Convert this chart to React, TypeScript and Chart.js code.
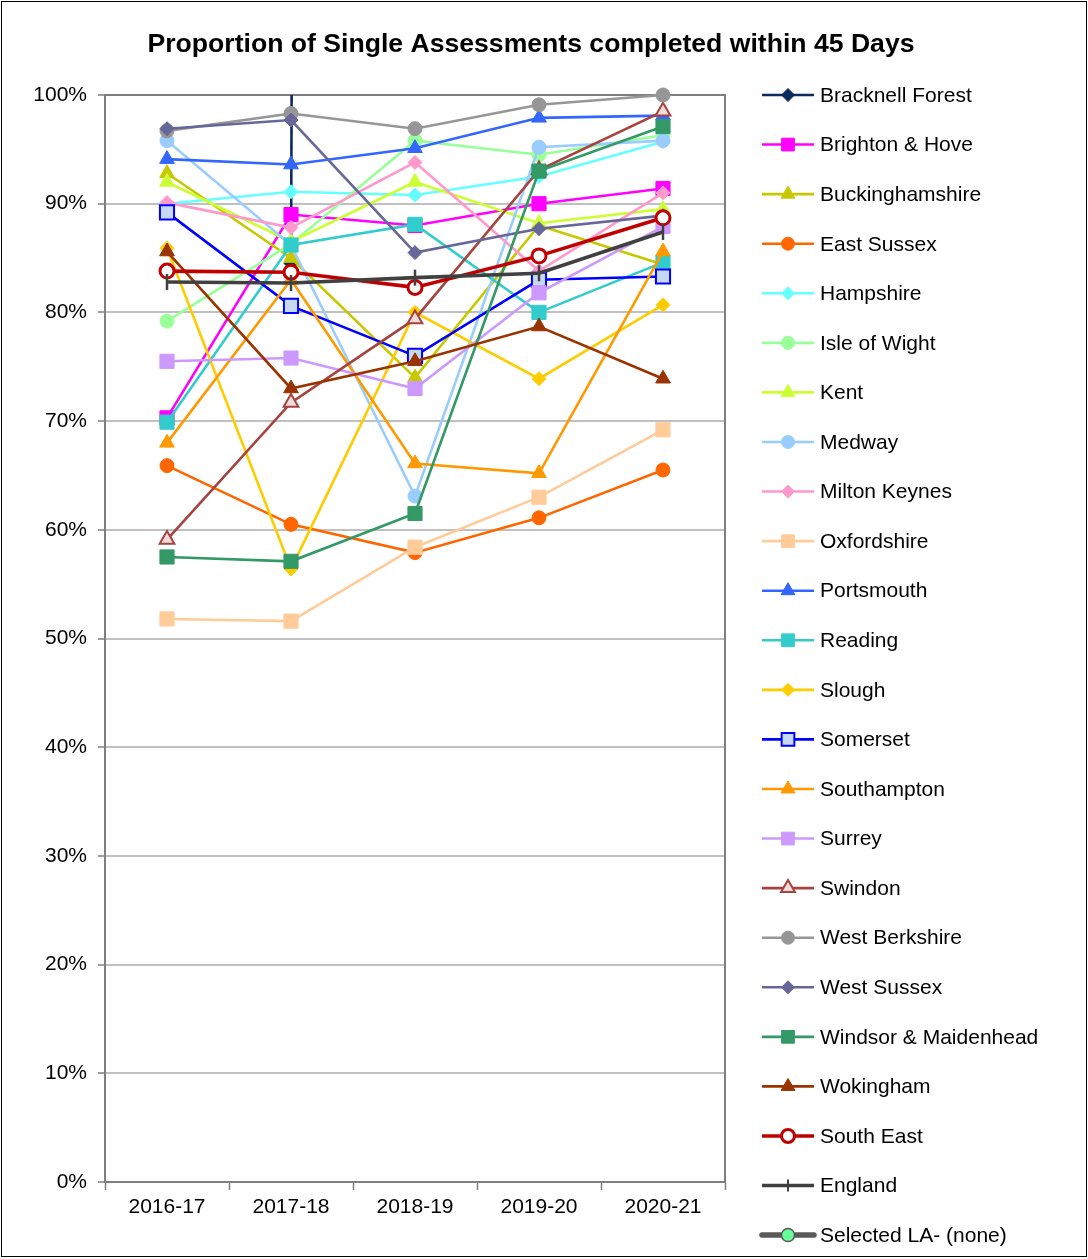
import React, { useEffect, useRef } from "react";
import { Chart, registerables } from "chart.js";

Chart.register(...registerables);

// ---------------- DATA ----------------
const categories = ["2016-17", "2017-18", "2018-19", "2019-20", "2020-21"];
const yTicks = [0, 10, 20, 30, 40, 50, 60, 70, 80, 90, 100];
const chartTitle = "Proportion of Single Assessments completed within 45 Days";

const seriesNames = [
  "Bracknell Forest",
  "Brighton & Hove",
  "Buckinghamshire",
  "East Sussex",
  "Hampshire",
  "Isle of Wight",
  "Kent",
  "Medway",
  "Milton Keynes",
  "Oxfordshire",
  "Portsmouth",
  "Reading",
  "Slough",
  "Somerset",
  "Southampton",
  "Surrey",
  "Swindon",
  "West Berkshire",
  "West Sussex",
  "Windsor & Maidenhead",
  "Wokingham",
  "South East",
  "England",
  "Selected LA- (none)",
];

const bracknellForest = [null, 84.5, 10000, null, null];
const brightonHove = [70.3, 89.0, 88.0, 90.0, 91.4];
const buckinghamshire = [92.8, 85.0, 74.0, 88.0, 84.4];
const eastSussex = [65.9, 60.5, 57.9, 61.1, 65.5];
const hampshire = [90.0, 91.1, 90.8, 92.5, 95.7];
const isleOfWight = [79.2, 86.3, 95.8, 94.5, 96.3];
const kent = [92.0, 86.5, 92.0, 88.2, 89.5];
const medway = [95.8, 86.2, 63.1, 95.2, 95.8];
const miltonKeynes = [90.1, 87.8, 93.8, 83.8, 91.0];
const oxfordshire = [51.8, 51.6, 58.4, 63.0, 69.2];
const portsmouth = [94.1, 93.6, 95.1, 97.9, 98.1];
const reading = [69.9, 86.2, 88.1, 80.0, 84.6];
const slough = [85.9, 56.4, 80.0, 73.9, 80.7];
const somerset = [89.2, 80.6, 76.0, 83.0, 83.3];
const southampton = [68.0, 83.0, 66.1, 65.2, 85.6];
const surrey = [75.5, 75.8, 73.0, 81.8, 87.9];
const swindon = [59.1, 71.7, 79.4, 93.1, 98.5];
const westBerkshire = [96.7, 98.3, 96.9, 99.1, 100.0];
const westSussex = [96.9, 97.7, 85.5, 87.7, 88.9];
const windsorMaidenhead = [57.5, 57.1, 61.5, 93.0, 97.1];
const wokingham = [85.6, 73.0, 75.5, 78.7, 73.9];
const southEast = [83.8, 83.7, 82.3, 85.2, 88.7];
const england = [82.8, 82.7, 83.2, 83.6, 87.4];
const selectedLA = [null, null, null, null, null];

const seriesData = [
  bracknellForest, brightonHove, buckinghamshire, eastSussex, hampshire,
  isleOfWight, kent, medway, miltonKeynes, oxfordshire, portsmouth, reading,
  slough, somerset, southampton, surrey, swindon, westBerkshire, westSussex,
  windsorMaidenhead, wokingham, southEast, england, selectedLA,
];

// ---------------- STYLES ----------------
type Style = {
  line: string;
  fill: string;
  border: string;
  shape: string;
  r: number;
  lw: number;
  bw: number;
};
const st = (line: string, shape: string, r: number, extra: Partial<Style> = {}): Style => ({
  line,
  fill: line,
  border: line,
  shape,
  r,
  lw: 2.6,
  bw: 1,
  ...extra,
});

const styles: Style[] = [
  st("#0B2A5E", "rectRot", 7),
  st("#FF00FF", "rect", 10),
  st("#C8C800", "triangle", 8.5),
  st("#FF6600", "circle", 7),
  st("#66FFFF", "rectRot", 7),
  st("#99FF99", "circle", 7),
  st("#CCFF33", "triangle", 8.5),
  st("#99CCFF", "circle", 7),
  st("#FF99CC", "rectRot", 7),
  st("#FFCC99", "rect", 10),
  st("#3366FF", "triangle", 8.5),
  st("#33CCCC", "rect", 10),
  st("#FFCC00", "rectRot", 7),
  st("#0000FF", "rect", 10, { fill: "#C6D9F1", border: "#0000FF", bw: 2 }),
  st("#FF9900", "triangle", 8.5),
  st("#CC99FF", "rect", 10),
  st("#A5433E", "triangle", 8.5, { fill: "#F2DCDB", border: "#A5433E", bw: 2 }),
  st("#969696", "circle", 7),
  st("#666699", "rectRot", 7),
  st("#339966", "rect", 10),
  st("#993300", "triangle", 8.5),
  st("#C00000", "circle", 7, { fill: "#FFFFFF", border: "#C00000", bw: 3, lw: 3.6 }),
  st("#404040", "crossRot0", 8, { lw: 3.6, bw: 2.5 }),
  st("#595959", "circle", 6, { fill: "#66FF99", border: "#595959", bw: 1.5, lw: 5.5 }),
];

const FONT = "'Liberation Sans', Arial, sans-serif";

function drawMarker(ctx: CanvasRenderingContext2D, s: Style, x: number, y: number) {
  ctx.save();
  ctx.fillStyle = s.fill;
  ctx.strokeStyle = s.border;
  ctx.lineWidth = s.bw;
  ctx.beginPath();
  const r = s.r;
  if (s.shape === "circle") {
    ctx.arc(x, y, r, 0, Math.PI * 2);
    ctx.fill();
    ctx.stroke();
  } else if (s.shape === "rect") {
    const h = r * Math.SQRT1_2;
    ctx.rect(x - h, y - h, 2 * h, 2 * h);
    ctx.fill();
    ctx.stroke();
  } else if (s.shape === "rectRot") {
    ctx.moveTo(x, y - r);
    ctx.lineTo(x + r, y);
    ctx.lineTo(x, y + r);
    ctx.lineTo(x - r, y);
    ctx.closePath();
    ctx.fill();
    ctx.stroke();
  } else if (s.shape === "triangle") {
    for (let k = 0; k < 3; k++) {
      const a = (k * 2 * Math.PI) / 3;
      const px = x + Math.sin(a) * r;
      const py = y - Math.cos(a) * r;
      if (k === 0) ctx.moveTo(px, py);
      else ctx.lineTo(px, py);
    }
    ctx.closePath();
    ctx.fill();
    ctx.stroke();
  } else {
    ctx.moveTo(x, y - r);
    ctx.lineTo(x, y + r);
    ctx.stroke();
  }
  ctx.restore();
}

const decorPlugin = {
  id: "decor",
  beforeDatasetsDraw(chart: any) {
    const { ctx, chartArea } = chart;
    ctx.save();
    ctx.strokeStyle = "#7F7F7F";
    ctx.lineWidth = 2;
    ctx.beginPath();
    ctx.moveTo(chartArea.left, chartArea.top);
    ctx.lineTo(chartArea.right, chartArea.top);
    ctx.lineTo(chartArea.right, chartArea.bottom);
    ctx.stroke();
    ctx.restore();
  },
  afterDraw(chart: any) {
    const { ctx } = chart;
    ctx.save();
    // title
    ctx.fillStyle = "#000";
    ctx.font = `bold 26.6px ${FONT}`;
    ctx.textAlign = "center";
    ctx.textBaseline = "middle";
    ctx.fillText(chartTitle, 531, 45);
    // legend
    const x0 = 762;
    const x1 = 814;
    const xm = 788;
    const step = 49.57;
    ctx.font = `21px ${FONT}`;
    ctx.textAlign = "left";
    seriesNames.forEach((name, i) => {
      const s = styles[i];
      const y = 95 + i * step;
      ctx.strokeStyle = s.line;
      ctx.lineWidth = s.lw;
      ctx.lineCap = i === seriesNames.length - 1 ? "round" : "butt";
      ctx.beginPath();
      ctx.moveTo(x0, y);
      ctx.lineTo(x1, y);
      ctx.stroke();
      if (s.shape === "crossRot0") {
        ctx.strokeStyle = s.line;
        ctx.lineWidth = 2;
        ctx.beginPath();
        ctx.moveTo(xm, y - 6);
        ctx.lineTo(xm, y + 6);
        ctx.stroke();
      } else {
        drawMarker(ctx, { ...s, r: s.shape === "rect" ? 9 : s.shape === "circle" ? 6.5 : s.r - 0.5 }, xm, y);
      }
      ctx.fillStyle = "#000";
      ctx.fillText(name, 820, y + 1);
    });
    // frame
    ctx.strokeStyle = "#000";
    ctx.lineWidth = 1;
    ctx.strokeRect(1.5, 1.5, 1085, 1255);
    ctx.restore();
  },
};

export default function App() {
  const ref = useRef<HTMLCanvasElement | null>(null);

  useEffect(() => {
    if (!ref.current) return;
    const n = seriesNames.length;
    const datasets = seriesNames.map((name, i) => {
      const s = styles[i];
      return {
        label: name,
        data: seriesData[i],
        borderColor: s.line,
        backgroundColor: s.fill,
        borderWidth: s.lw,
        pointStyle: s.shape === "crossRot0" ? "line" : s.shape,
        pointRotation: s.shape === "crossRot0" ? 90 : 0,
        pointRadius: s.r,
        pointHoverRadius: s.r,
        pointBackgroundColor: s.fill,
        pointBorderColor: s.border,
        pointBorderWidth: s.shape === "crossRot0" ? 2.5 : s.bw,
        tension: 0,
        spanGaps: false,
        order: n - i,
        clip: i === 0 ? 0 : false,
      };
    });

    const chart = new Chart(ref.current, {
      type: "line",
      data: { labels: categories, datasets: datasets as any },
      options: {
        responsive: false,
        animation: false,
        devicePixelRatio: 1,
        layout: { padding: { top: 95, right: 363, left: 0, bottom: 0 } },
        plugins: {
          legend: { display: false },
          title: { display: false },
          tooltip: { enabled: false },
        },
        scales: {
          x: {
            offset: true,
            grid: {
              offset: true,
              drawOnChartArea: false,
              drawTicks: true,
              tickLength: 8,
              tickColor: "#7F7F7F",
              tickWidth: 1.5,
            },
            border: { color: "#7F7F7F", width: 2 },
            ticks: {
              color: "#000",
              font: { family: FONT, size: 21 },
              padding: 5,
              maxRotation: 0,
            },
            afterFit: (scale: any) => {
              scale.height = 77;
            },
          },
          y: {
            min: 0,
            max: 100,
            afterBuildTicks: (scale: any) => {
              scale.ticks = yTicks.map((v) => ({ value: v }));
            },
            grid: {
              color: (c: any) => (c.tick && c.tick.value === 100 ? "#7F7F7F" : "#C0C0C0"),
              lineWidth: 2,
              tickLength: 7,
              tickColor: "#7F7F7F",
              tickWidth: 1.5,
            },
            border: { color: "#7F7F7F", width: 2 },
            ticks: {
              color: "#000",
              font: { family: FONT, size: 21 },
              padding: 11,
              callback: (v: any) => `${v}%`,
            },
            afterFit: (scale: any) => {
              scale.width = 105;
            },
          },
        },
      },
      plugins: [decorPlugin],
    });
    return () => chart.destroy();
  }, []);

  return (
    <div style={{ position: "absolute", left: 0, top: 0, width: 1088, height: 1259, background: "#fff" }}>
      <canvas ref={ref} width={1088} height={1259} style={{ width: 1088, height: 1259, display: "block" }} />
    </div>
  );
}
